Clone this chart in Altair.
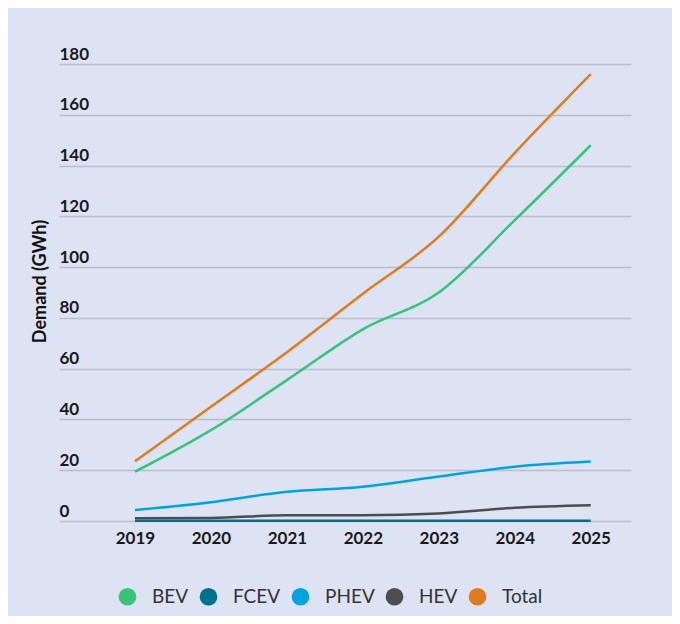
import altair as alt
import pandas as pd

years = [2019, 2020, 2021, 2022, 2023, 2024, 2025]
series_names = ["BEV", "FCEV", "PHEV", "HEV", "Total"]
bev = [19.4, 35.8, 55.5, 75.5, 90.0, 118.5, 148.0]
fcev = [0.1, 0.1, 0.1, 0.1, 0.1, 0.1, 0.1]
phev = [4.3, 7.4, 11.5, 13.5, 17.5, 21.4, 23.4]
hev = [1.1, 1.2, 2.3, 2.3, 3.0, 5.2, 6.2]
total = [23.5, 45.0, 66.5, 89.5, 112.0, 145.0, 176.0]
colors = ["#35c47a", "#00708f", "#00a3e0", "#4d4d4d", "#e07b1e"]
y_ticks = [0, 20, 40, 60, 80, 100, 120, 140, 160, 180]

rows = []
for name, vals in zip(series_names, [bev, fcev, phev, hev, total]):
    for yr, v in zip(years, vals):
        rows.append({"Year": yr, "Series": name, "Demand": v})
df = pd.DataFrame(rows)

FONT = "Lato"

x_enc = alt.X("Year:Q",
              scale=alt.Scale(domain=[2018, 2025.53], nice=False, zero=False),
              axis=alt.Axis(values=years, format="d", title=None, grid=False,
                            domain=False, ticks=False, labelPadding=9,
                            labelFontSize=17, labelFontWeight="bold",
                            labelColor="#1a1a1a", labelFont=FONT))
y_enc = alt.Y("Demand:Q",
              scale=alt.Scale(domain=[0, 180], nice=False),
              axis=alt.Axis(values=y_ticks, title="Demand (GWh)", grid=True,
                            gridColor="#b9bdcc", gridWidth=1.5,
                            domain=False, ticks=False,
                            labelAlign="left", labelBaseline="alphabetic",
                            labelPadding=0, labelOffset=-5,
                            labelFontSize=17, labelFontWeight="bold",
                            labelColor="#1a1a1a", labelFont=FONT,
                            titleFont=FONT, titleFontSize=18, titleFontWeight="bold",
                            titleColor="#111111", titleAngle=-90,
                            titleX=-19, titleY=217, titleAlign="center",
                            titleBaseline="middle"))

lines = alt.Chart(df).mark_line(interpolate="monotone", strokeWidth=2.5).encode(
    x=x_enc,
    y=y_enc,
    stroke=alt.Stroke("Series:N",
                      scale=alt.Scale(domain=series_names, range=colors),
                      legend=None),
    order=alt.Order("Year:Q"),
)

legend_pts = alt.Chart(df).mark_circle(opacity=0, size=1).encode(
    x=alt.X("Year:Q"),
    y=alt.Y("Demand:Q"),
    fill=alt.Fill("Series:N",
                  scale=alt.Scale(domain=series_names, range=colors),
                  sort=series_names,
                  legend=alt.Legend(title=None, orient="none", direction="horizontal",
                                    legendX=59, legendY=523,
                                    symbolType="circle", symbolSize=314,
                                    symbolStrokeWidth=0, symbolOpacity=1,
                                    labelFontSize=19, labelColor="#333333",
                                    labelFont=FONT, labelOffset=15,
                                    columnPadding=10)),
)

chart = alt.layer(lines, legend_pts).resolve_scale(
    stroke="independent", fill="independent"
).properties(
    width=572,
    height=457,
    background="#dde3f2",
    padding={"left": 51, "right": 41, "top": 56, "bottom": 95},
    autosize=alt.AutoSizeParams(type="none"),
).configure_view(stroke=None)

chart.save("out.html", embed_options={"renderer": "svg", "actions": False})
